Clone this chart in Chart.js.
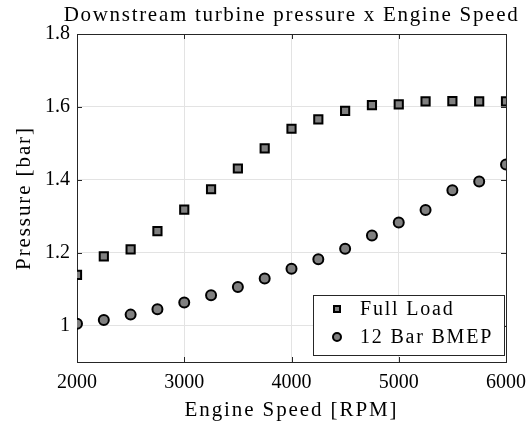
<!DOCTYPE html>
<html>
<head>
<meta charset="utf-8">
<script src="https://cdn.jsdelivr.net/npm/chart.js@4.4.1/dist/chart.umd.min.js"></script>
<style>
  html, body { margin: 0; padding: 0; background: #fff; }
</style>
</head>
<body>
<canvas id="chart" width="529" height="425"></canvas>
<script>
const speeds = [2000, 2250, 2500, 2750, 3000, 3250, 3500, 3750, 4000, 4250, 4500, 4750, 5000, 5250, 5500, 5750, 6000];
const fullLoad = [1.139, 1.190, 1.209, 1.259, 1.318, 1.374, 1.431, 1.486, 1.540, 1.566, 1.589, 1.605, 1.607, 1.615, 1.616, 1.615, 1.615];
const bmep12 = [1.005, 1.015, 1.030, 1.045, 1.063, 1.083, 1.106, 1.129, 1.156, 1.182, 1.211, 1.247, 1.283, 1.317, 1.371, 1.395, 1.442];
const seriesNames = ['Full Load', '12 Bar BMEP'];
const xTicks = [2000, 3000, 4000, 5000, 6000];
const yTicks = [1, 1.2, 1.4, 1.6, 1.8];
const titleText = 'Downstream turbine pressure x Engine Speed';
const xTitle = 'Engine Speed [RPM]';
const yTitle = 'Pressure [bar]';

const serif = "'Liberation Serif', 'DejaVu Serif', serif";
const ink = '#262626';
const markerFill = '#808080';

// box + inward tick marks, like a matlab axes
const framePlugin = {
    id: 'frame',
    beforeDatasetsDraw(chart) {
        const { ctx, chartArea: a, scales } = chart;
        ctx.save();
        ctx.strokeStyle = ink;
        ctx.lineWidth = 1;
        ctx.beginPath();
        xTicks.forEach(function(v) {
            const x = Math.round(scales.x.getPixelForValue(v)) + 0.5;
            ctx.moveTo(x, a.bottom); ctx.lineTo(x, a.bottom - 5);
            ctx.moveTo(x, a.top); ctx.lineTo(x, a.top + 5);
        });
        yTicks.forEach(function(v) {
            const y = Math.round(scales.y.getPixelForValue(v)) + 0.5;
            ctx.moveTo(a.left, y); ctx.lineTo(a.left + 5, y);
            ctx.moveTo(a.right, y); ctx.lineTo(a.right - 5, y);
        });
        ctx.stroke();
        ctx.strokeRect(Math.round(a.left) + 0.5, Math.round(a.top) + 0.5, Math.round(a.right - a.left), Math.round(a.bottom - a.top));
        ctx.restore();
    }
};

// titles (latex fonts run wider, hence the letter spacing) and the inset legend
const overlayPlugin = {
    id: 'overlay',
    afterDraw(chart) {
        const { ctx, chartArea: a } = chart;
        const cx = (a.left + a.right) / 2;
        ctx.save();
        ctx.fillStyle = '#000';
        ctx.letterSpacing = '1.7px';
        ctx.font = '21px ' + serif;
        ctx.textAlign = 'center';
        ctx.textBaseline = 'alphabetic';
        ctx.fillText(titleText, cx, 21);

        ctx.letterSpacing = '1.9px';
        ctx.textBaseline = 'middle';
        ctx.fillText(xTitle, cx, 410);
        ctx.save();
        ctx.translate(24, (a.top + a.bottom) / 2);
        ctx.rotate(-Math.PI / 2);
        ctx.fillText(yTitle, 0, 0);
        ctx.restore();

        const bx = 313.5, by = 295.5, bw = 191, bh = 60;
        ctx.fillStyle = '#fff';
        ctx.fillRect(bx, by, bw, bh);
        ctx.strokeStyle = ink;
        ctx.lineWidth = 1;
        ctx.strokeRect(bx, by, bw, bh);

        ctx.letterSpacing = '1.8px';
        ctx.font = '20px ' + serif;
        ctx.textAlign = 'left';
        const rows = [309, 337];
        rows.forEach(function(y, i) {
            ctx.fillStyle = markerFill;
            ctx.strokeStyle = '#000';
            ctx.lineWidth = 2;
            ctx.beginPath();
            if (i === 0) {
                ctx.rect(334, y - 3, 6, 6);
            } else {
                ctx.arc(337, y, 4, 0, Math.PI * 2);
            }
            ctx.fill();
            ctx.stroke();
            ctx.fillStyle = '#000';
            ctx.fillText(seriesNames[i], 360, y + 1);
        });
        ctx.restore();
    }
};

new Chart(document.getElementById('chart'), {
    type: 'scatter',
    data: {
        datasets: [
            {
                label: seriesNames[0],
                data: speeds.map(function(s, i) { return { x: s, y: fullLoad[i] }; }),
                pointStyle: 'rect',
                pointRadius: 5.8,
                pointBackgroundColor: markerFill,
                pointBorderColor: '#000',
                pointBorderWidth: 2,
            },
            {
                label: seriesNames[1],
                data: speeds.map(function(s, i) { return { x: s, y: bmep12[i] }; }),
                pointStyle: 'circle',
                pointRadius: 5,
                pointBackgroundColor: markerFill,
                pointBorderColor: '#000',
                pointBorderWidth: 2,
            },
        ],
    },
    options: {
        responsive: false,
        animation: false,
        layout: { padding: { top: 34, right: 23, left: 0, bottom: 0 } },
        plugins: {
            legend: { display: false },
            tooltip: { enabled: false },
            title: { display: false },
        },
        scales: {
            x: {
                type: 'linear',
                min: 2000,
                max: 6000,
                afterBuildTicks: function(scale) { scale.ticks = xTicks.map(function(v) { return { value: v }; }); },
                afterFit: function(scale) {
                    scale.height = 63;
                    scale.paddingLeft = 0;
                    scale.paddingRight = 0;
                },
                grid: { color: '#e3e3e3', drawTicks: false },
                border: { display: false },
                ticks: { color: '#000', font: { family: serif, size: 20 }, padding: 9, maxRotation: 0, callback: function(v) { return String(v); } },
            },
            y: {
                type: 'linear',
                min: 0.9,
                max: 1.8,
                afterBuildTicks: function(scale) { scale.ticks = yTicks.map(function(v) { return { value: v }; }); },
                afterFit: function(scale) {
                    scale.width = 77;
                    scale.paddingTop = 0;
                    scale.paddingBottom = 0;
                },
                grid: { color: '#e3e3e3', drawTicks: false },
                border: { display: false },
                ticks: { color: '#000', font: { family: serif, size: 20 }, padding: 7, callback: function(v) { return String(Math.round(v * 10) / 10); } },
            },
        },
    },
    plugins: [framePlugin, overlayPlugin],
});
</script>
</body>
</html>
